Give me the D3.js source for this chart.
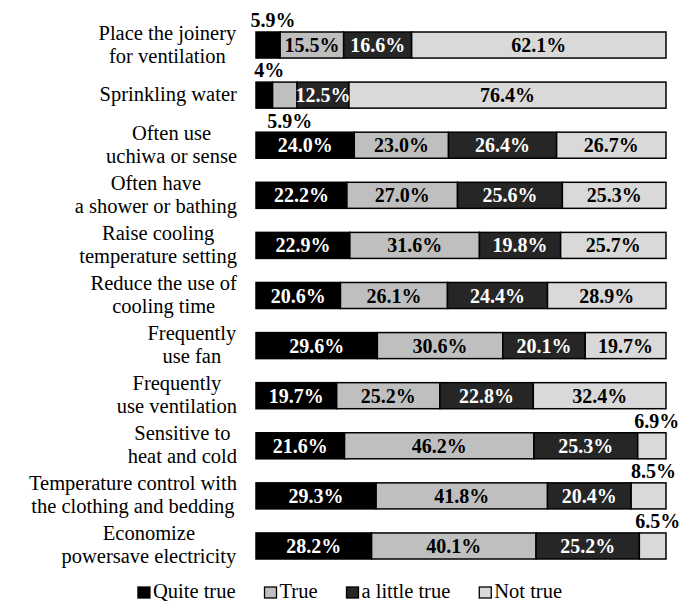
<!DOCTYPE html>
<html>
<head>
<meta charset="utf-8">
<script src="https://cdn.jsdelivr.net/npm/d3@7"></script>
<style>
  body { margin: 0; background: #fff; }
</style>
</head>
<body>
<svg id="chart" width="699" height="602"></svg>
<script>
// categories, top to bottom ("|" splits the label lines)
var categories = [
  "Place the joinery|for ventilation",
  "Sprinkling water",
  "Often use|uchiwa or sense",
  "Often have|a shower or bathing",
  "Raise cooling|temperature setting",
  "Reduce the use of|cooling time",
  "Frequently|use fan",
  "Frequently|use ventilation",
  "Sensitive to|heat and cold",
  "Temperature control with|the clothing and bedding",
  "Economize|powersave electricity"
];
var seriesNames = ["Quite true", "True", "a little true", "Not true"];
var quiteTrue   = [5.9, 4,   24.0, 22.2, 22.9, 20.6, 29.6, 19.7, 21.6, 29.3, 28.2];
var trueVals    = [15.5, 5.9, 23.0, 27.0, 31.6, 26.1, 30.6, 25.2, 46.2, 41.8, 40.1];
var littleTrue  = [16.6, 12.5, 26.4, 25.6, 19.8, 24.4, 20.1, 22.8, 25.3, 20.4, 25.2];
var notTrue     = [62.1, 76.4, 26.7, 25.3, 25.7, 28.9, 19.7, 32.4, 6.9, 8.5, 6.5];

var fills = ["#000000", "#bfbfbf", "#262626", "#d9d9d9"];
var labelColors = ["#fff", "#000", "#fff", "#000"];

var rows = categories.map(function(c, i) {
  return {cat: c, "Quite true": quiteTrue[i], "True": trueVals[i],
          "a little true": littleTrue[i], "Not true": notTrue[i]};
});

var svg = d3.select("#chart")
  .attr("font-family", "'Liberation Serif', 'Times New Roman', Times, serif");

var x = d3.scaleLinear().domain([0, 1]).range([256, 666]);
var y = d3.scaleBand().domain(categories).range([32, 559])
          .paddingInner(0.48).paddingOuter(0);

var stack = d3.stack().keys(seriesNames).offset(d3.stackOffsetExpand);
var series = stack(rows);

var layer = svg.append("g").selectAll("g")
  .data(series).enter().append("g")
  .attr("fill", function(d, i) { return fills[i]; });

layer.selectAll("rect")
  .data(function(d) { return d; })
  .enter().append("rect")
  .attr("x", function(d) { return x(d[0]); })
  .attr("y", function(d) { return y(d.data.cat); })
  .attr("width", function(d) { return x(d[1]) - x(d[0]); })
  .attr("height", y.bandwidth())
  .attr("stroke", "#000")
  .attr("stroke-width", 1.5);

// value labels
series.forEach(function(s, si) {
  s.forEach(function(d, ri) {
    var v = d.data[s.key];
    var cx = (x(d[0]) + x(d[1])) / 2;
    var top = y(d.data.cat);
    var txt = (Number.isInteger(v) && v < 10) ? v + "%" : v.toFixed(1) + "%";
    var t = svg.append("text")
      .attr("text-anchor", "middle")
      .attr("font-weight", "bold")
      .attr("font-size", 20)
      .text(txt);
    if (v >= 10) {
      t.attr("x", cx).attr("y", top + y.bandwidth() / 2).attr("dy", "0.35em")
       .attr("fill", labelColors[si]);
    } else {
      // small slice: label outside, below if the previous slice is also small
      var prevSmall = si > 0 && series[si - 1][ri].data[series[si - 1].key] < 10;
      t.attr("x", cx + 5).attr("fill", "#000");
      if (prevSmall) t.attr("y", top + y.bandwidth() + 20);
      else t.attr("y", top - 5);
    }
  });
});

// category labels: lines centred on each other, block right-aligned
categories.forEach(function(c) {
  var lines = c.split("|");
  var g = svg.append("g");
  var cy = y(c) + y.bandwidth() / 2;
  lines.forEach(function(l, i) {
    g.append("text")
      .attr("x", 0)
      .attr("y", cy + (i - (lines.length - 1) / 2) * 23 + 6)
      .attr("text-anchor", "middle")
      .attr("font-size", 20.5)
      .attr("fill", "#000")
      .text(l);
  });
  var bb = g.node().getBBox();
  g.attr("transform", "translate(" + (237 - (bb.x + bb.width)) + ",0)");
});

// legend
var legend = svg.append("g");
var items = [];
var total = 0;
seriesNames.forEach(function(name, i) {
  var it = legend.append("g");
  it.append("rect").attr("x", 0).attr("y", 587).attr("width", 12).attr("height", 11)
    .attr("fill", fills[i]).attr("stroke", "#000").attr("stroke-width", 1.3);
  var t = it.append("text").attr("x", 15).attr("y", 598)
    .attr("font-size", 20.5).attr("fill", "#000").text(name);
  var w = 15 + t.node().getComputedTextLength();
  items.push({g: it, w: w});
  total += w;
});
var gap = 29;
total += gap * (items.length - 1);
var lx = 350 - total / 2;
items.forEach(function(it) {
  it.g.attr("transform", "translate(" + lx + ",0)");
  lx += it.w + gap;
});
</script>
</body>
</html>
